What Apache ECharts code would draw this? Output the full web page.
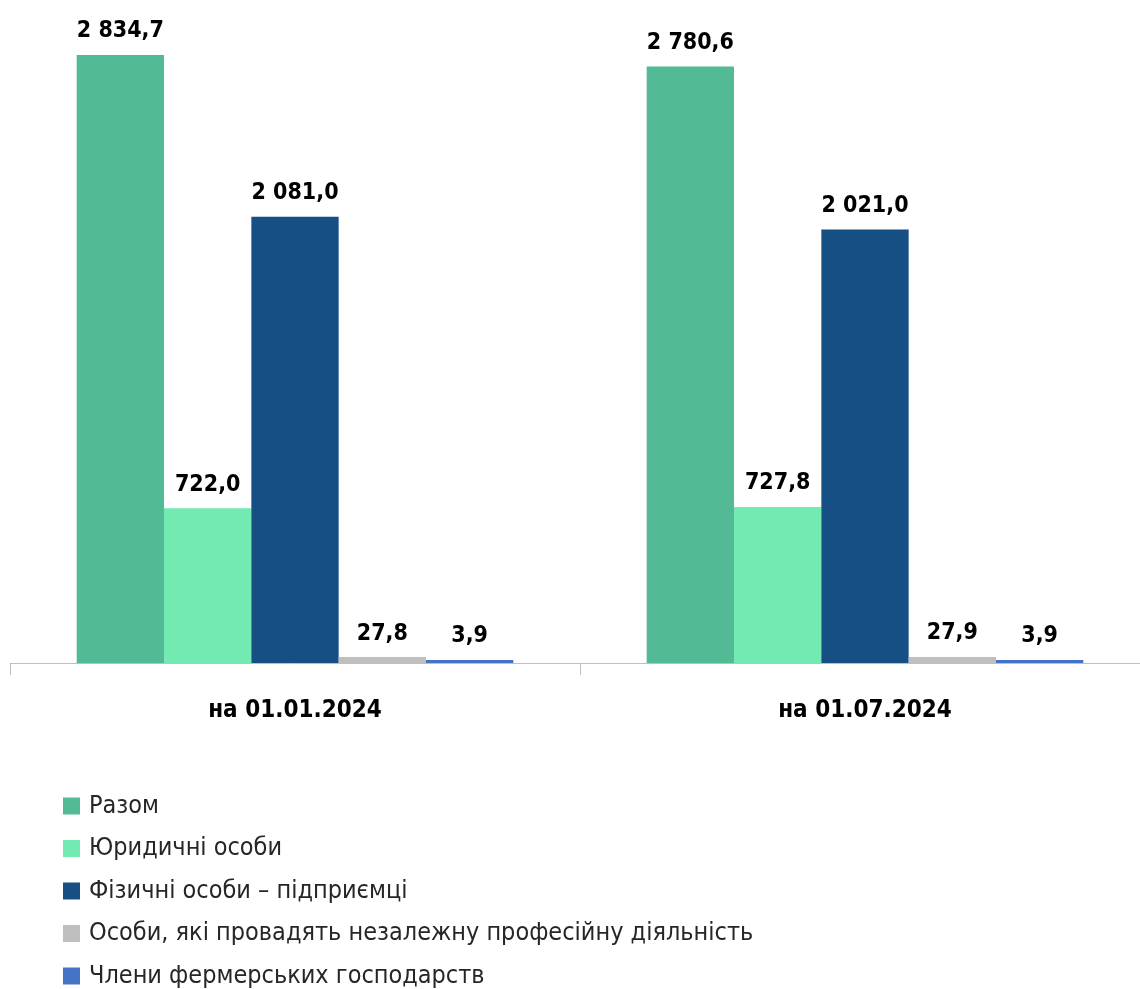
<!DOCTYPE html>
<html><head><meta charset="utf-8">
<script src="https://cdn.jsdelivr.net/npm/echarts@6/dist/echarts.min.js"></script>
<style>html,body{margin:0;padding:0;background:#fff}#c{width:1140px;height:989px}</style>
</head><body><div id="c"></div>
<script>
const categories = ['на 01.01.2024', 'на 01.07.2024'];
const seriesNames = ['Разом', 'Юридичні особи', 'Фізичні особи – підприємці', 'Особи, які провадять незалежну професійну діяльність', 'Члени фермерських господарств'];
const totalVals = [2834.7, 2780.6];
const legalVals = [722.0, 727.8];
const fopVals = [2081.0, 2021.0];
const independentVals = [27.8, 27.9];
const farmVals = [3.9, 3.9];
const colors = ['#52BA94', '#72EAB2', '#164F84', '#BFBFBF', '#4472C4'];

const FONT = '"Liberation Sans Narrow", "DejaVu Sans Condensed", Roboto, sans-serif';
function fmt(v) {
  const parts = v.toFixed(1).split('.');
  const int = parts[0].replace(/\B(?=(\d{3})+(?!\d))/g, ' ');
  return int + ',' + parts[1];
}
const allVals = [totalVals, legalVals, fopVals, independentVals, farmVals];
const chart = echarts.init(document.getElementById('c'));
chart.setOption({
  animation: false,
  grid: { left: 10, width: 1140, top: 55, bottom: 326, outerBoundsMode: 'none' },
  legend: {
    orient: 'vertical', left: 63, top: 793, height: 200, width: 1000, padding: 0,
    itemWidth: 17, itemHeight: 17, itemGap: 16.5,
    icon: 'rect',
    textStyle: { fontFamily: FONT, fontSize: 25, fontWeight: 300, color: '#262626', lineHeight: 26, padding: [0, 0, 0, 4] },
    data: seriesNames
  },
  xAxis: {
    type: 'category', data: categories,
    axisLine: { lineStyle: { color: '#BFBFBF', width: 1 } },
    axisTick: { show: true, length: 12, lineStyle: { color: '#BFBFBF' } },
    axisLabel: { margin: 36, fontFamily: FONT, fontSize: 24, fontWeight: 'bold', color: '#000' }
  },
  yAxis: { type: 'value', min: 0, max: 2834.7, show: false, splitLine: { show: false } },
  series: seriesNames.map((n, i) => ({
    name: n, type: 'bar', data: allVals[i],
    barGap: '0%', barCategoryGap: '23.4%', barMinHeight: 3,
    itemStyle: { color: colors[i] },
    label: {
      show: true, position: 'top', distance: 12,
      formatter: p => fmt(p.value),
      fontFamily: FONT, fontSize: 23, fontWeight: 'bold', color: '#000'
    }
  }))
});
</script></body></html>
